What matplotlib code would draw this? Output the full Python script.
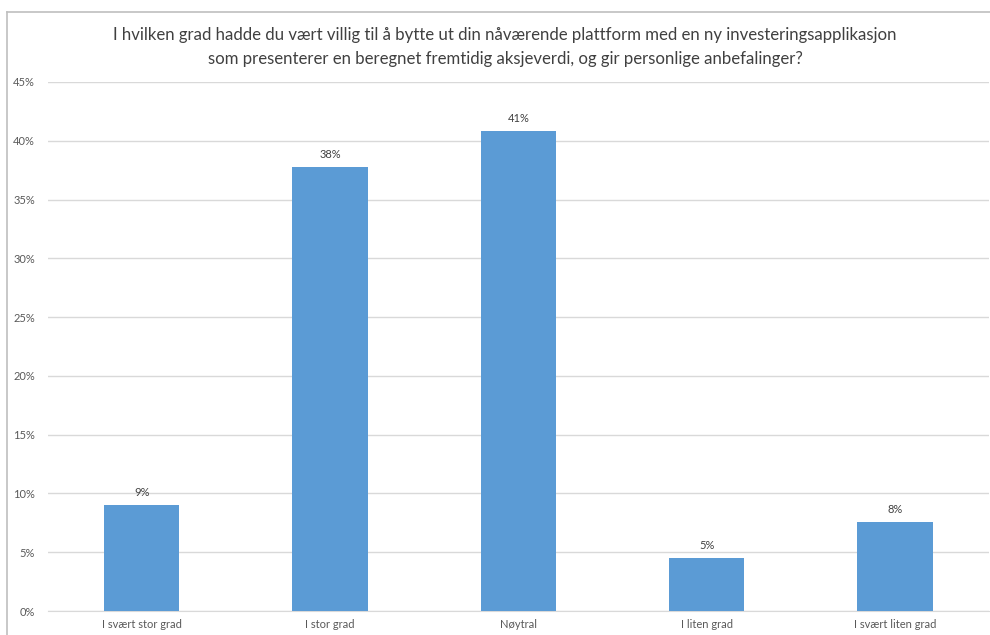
import matplotlib
matplotlib.use("Agg")
import matplotlib.pyplot as plt
from matplotlib.lines import Line2D
from matplotlib.ticker import FuncFormatter

categories = ["I svært stor grad", "I stor grad", "Nøytral", "I liten grad", "I svært liten grad"]
values = [9.0, 37.8, 40.8, 4.5, 7.6]
value_labels = ["9%", "38%", "41%", "5%", "8%"]
yticks = [0, 5, 10, 15, 20, 25, 30, 35, 40, 45]
title = ("I hvilken grad hadde du vært villig til å bytte ut din nåværende plattform med en ny investeringsapplikasjon\n"
         "som presenterer en beregnet fremtidig aksjeverdi, og gir personlige anbefalinger?")

plt.rcParams['font.family'] = ['Lato', 'DejaVu Sans']

W, H = 990, 635
fig = plt.figure(figsize=(W / 100, H / 100), dpi=100)
left, right, top, bottom = 47.5, 989, 82, 611
ax = fig.add_axes([left / W, 1 - bottom / H, (right - left) / W, (bottom - top) / H])

x = list(range(len(categories)))
bars = ax.bar(x, values, width=0.4, color="#5B9BD5", zorder=3)
for xi, v, lab in zip(x, values, value_labels):
    ax.text(xi, v + 0.6, lab, ha="center", va="bottom", fontsize=8, color="#404040")

ax.set_xlim(-0.5, len(categories) - 0.5)
ax.set_ylim(0, 45)
ax.set_yticks(yticks)
ax.yaxis.set_major_formatter(FuncFormatter(lambda v, p: f"{v:.0f}%"))
ax.set_xticks(x)
ax.set_xticklabels(categories)
ax.tick_params(axis="both", length=0, labelsize=8, labelcolor="#595959")
ax.tick_params(axis="y", pad=9)
ax.tick_params(axis="x", pad=6)
ax.grid(axis="y", color="#D9D9D9", linewidth=1, zorder=0)
for s in ["top", "right", "left"]:
    ax.spines[s].set_visible(False)
ax.spines["bottom"].set_color("#D9D9D9")

fig.text(505 / W, 1 - 47 / H, title, ha="center", va="center", fontsize=12.1, color="#404040",
         linespacing=1.55)

# chart border (cropped at right and bottom)
fig.add_artist(Line2D([7 / W, 7 / W], [1 - 12 / H, 0], transform=fig.transFigure, color="#BFBFBF", lw=1.2))
fig.add_artist(Line2D([7 / W, 1], [1 - 12 / H, 1 - 12 / H], transform=fig.transFigure, color="#BFBFBF", lw=1.2))

fig.savefig("out.png", dpi=100, facecolor="white")
